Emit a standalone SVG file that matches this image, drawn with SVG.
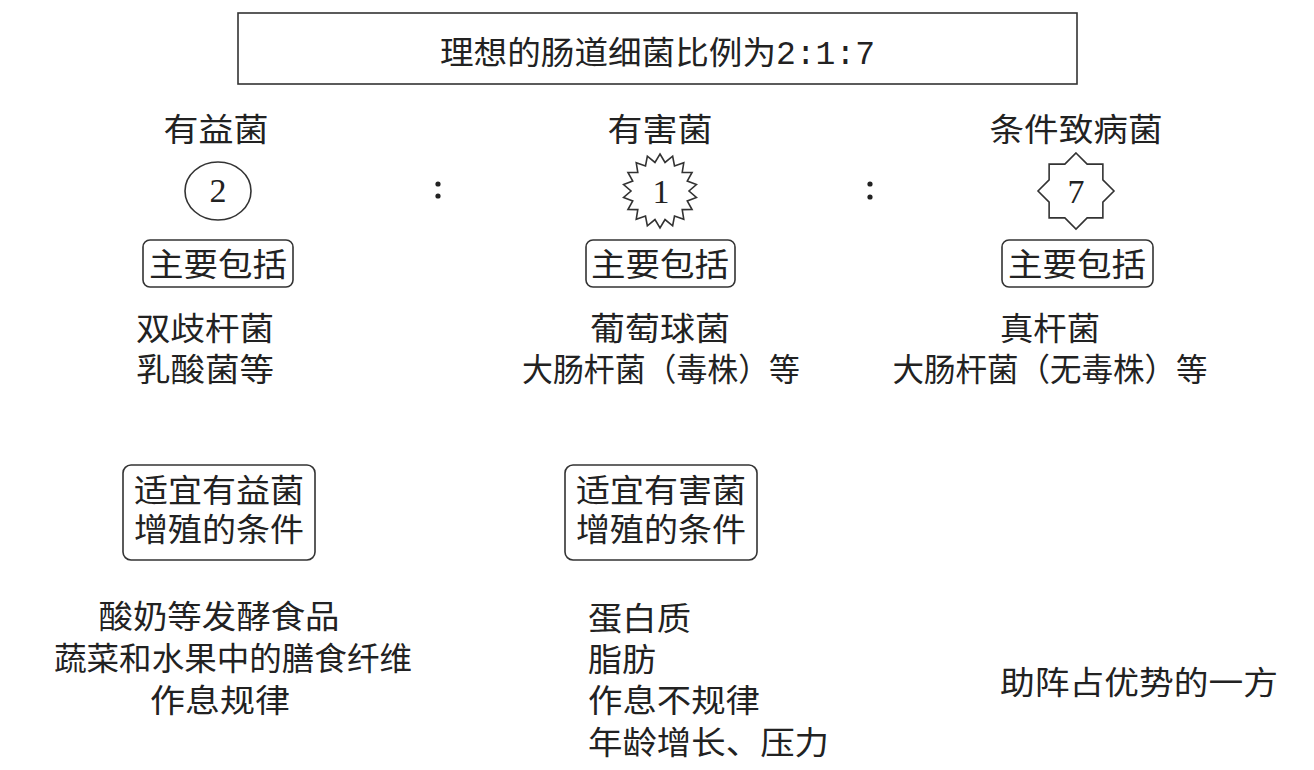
<svg xmlns="http://www.w3.org/2000/svg" width="1314" height="770" viewBox="0 0 1314 770">
<style>
.t{font-family:"Noto Sans CJK SC","Noto Sans",sans-serif;font-size:32px;fill:#222;text-anchor:middle}
.l{font-family:"Noto Sans CJK SC","Noto Sans",sans-serif;font-size:32px;fill:#222}
.n{font-family:"Liberation Serif",serif;font-size:34px;fill:#222;text-anchor:middle}
.box{fill:none;stroke:#333;stroke-width:1.6}
.shape{fill:#fff;stroke:#333;stroke-width:1.6}
</style>
<rect width="1314" height="770" fill="#fff"/>
<g id="title">
<rect class="box" x="238" y="13" width="839" height="71"/>
<text class="l" x="440" y="64"><tspan textLength="336" lengthAdjust="spacingAndGlyphs">理想的肠道细菌比例为</tspan><tspan style="font-family:'Liberation Mono',monospace" font-size="33">2:1:7</tspan></text>
</g>
<g id="col1">
<text class="t" x="216" y="141" textLength="105" lengthAdjust="spacingAndGlyphs">有益菌</text>
<ellipse class="shape" cx="218" cy="191" rx="33" ry="29"/>
<text class="n" x="218" y="202">2</text>
<rect class="box" x="143" y="240" width="150" height="47" rx="7"/>
<text class="t" x="218" y="276" textLength="138" lengthAdjust="spacingAndGlyphs">主要包括</text>
<text class="t" x="205" y="340" textLength="138" lengthAdjust="spacingAndGlyphs">双歧杆菌</text>
<text class="t" x="205" y="381" textLength="138" lengthAdjust="spacingAndGlyphs">乳酸菌等</text>
</g>
<g id="colon1"><circle cx="438" cy="184" r="2.6" fill="#222"/><circle cx="438" cy="196" r="2.6" fill="#222"/></g>
<g id="col2">
<text class="t" x="660" y="141" textLength="105" lengthAdjust="spacingAndGlyphs">有害菌</text>
<polygon class="shape" points="660,154 665.03,162.44 672.65,156.23 674.5,165.89 683.78,162.66 682.21,172.36 692.04,172.5 687.25,181.08 696.44,184.58 689,191 696.44,197.42 687.25,200.92 692.04,209.5 682.21,209.64 683.78,219.34 674.5,216.11 672.65,225.77 665.03,219.56 660,228 654.97,219.56 647.35,225.77 645.5,216.11 636.22,219.34 637.79,209.64 627.96,209.5 632.75,200.92 623.56,197.42 631,191 623.56,184.58 632.75,181.08 627.96,172.5 637.79,172.36 636.22,162.66 645.5,165.89 647.35,156.23 654.97,162.44"/>
<text class="n" x="661" y="203">1</text>
<rect class="box" x="586" y="240" width="149" height="47" rx="7"/>
<text class="t" x="660" y="276" textLength="138" lengthAdjust="spacingAndGlyphs">主要包括</text>
<text class="t" x="660" y="340" textLength="140" lengthAdjust="spacingAndGlyphs">葡萄球菌</text>
<text class="t" x="661" y="381" textLength="278" lengthAdjust="spacingAndGlyphs">大肠杆菌（毒株）等</text>
</g>
<g id="colon2"><circle cx="870" cy="184" r="2.6" fill="#222"/><circle cx="870" cy="197" r="2.6" fill="#222"/></g>
<g id="col3">
<text class="t" x="1076" y="141" textLength="173" lengthAdjust="spacingAndGlyphs">条件致病菌</text>
<polygon class="shape" points="1076,153 1087.14,164.12 1102.87,164.13 1102.88,179.86 1114,191 1102.88,202.14 1102.87,217.87 1087.14,217.88 1076,229 1064.86,217.88 1049.13,217.87 1049.12,202.14 1038,191 1049.12,179.86 1049.13,164.13 1064.86,164.12"/>
<text class="n" x="1076" y="203">7</text>
<rect class="box" x="1002" y="240" width="151" height="47" rx="7"/>
<text class="t" x="1077" y="276" textLength="138" lengthAdjust="spacingAndGlyphs">主要包括</text>
<text class="t" x="1050" y="340" textLength="100" lengthAdjust="spacingAndGlyphs">真杆菌</text>
<text class="t" x="1050" y="381" textLength="315" lengthAdjust="spacingAndGlyphs">大肠杆菌（无毒株）等</text>
</g>
<g id="cond1">
<rect class="box" x="123" y="465" width="192" height="95" rx="8"/>
<text class="t" x="219" y="502" textLength="170" lengthAdjust="spacingAndGlyphs">适宜有益菌</text>
<text class="t" x="219" y="541" textLength="170" lengthAdjust="spacingAndGlyphs">增殖的条件</text>
<text class="t" x="219" y="628" textLength="241" lengthAdjust="spacingAndGlyphs">酸奶等发酵食品</text>
<text class="t" x="233" y="670" textLength="358" lengthAdjust="spacingAndGlyphs">蔬菜和水果中的膳食纤维</text>
<text class="t" x="220" y="712" textLength="140" lengthAdjust="spacingAndGlyphs">作息规律</text>
</g>
<g id="cond2">
<rect class="box" x="565" y="465" width="192" height="95" rx="8"/>
<text class="t" x="661" y="502" textLength="170" lengthAdjust="spacingAndGlyphs">适宜有害菌</text>
<text class="t" x="661" y="541" textLength="170" lengthAdjust="spacingAndGlyphs">增殖的条件</text>
<text class="l" x="588" y="630" textLength="103" lengthAdjust="spacingAndGlyphs">蛋白质</text>
<text class="l" x="588" y="671" textLength="68" lengthAdjust="spacingAndGlyphs">脂肪</text>
<text class="l" x="588" y="712" textLength="172" lengthAdjust="spacingAndGlyphs">作息不规律</text>
<text class="l" x="588" y="754" textLength="241" lengthAdjust="spacingAndGlyphs">年龄增长、压力</text>
</g>
<g id="note">
<text class="l" x="1000" y="694" textLength="278" lengthAdjust="spacingAndGlyphs">助阵占优势的一方</text>
</g>
<g id="connectors"></g>
</svg>
